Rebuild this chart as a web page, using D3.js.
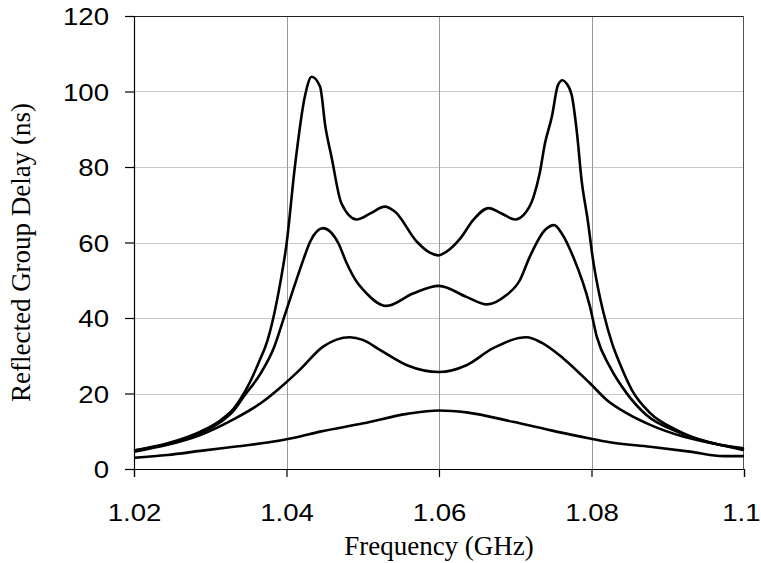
<!DOCTYPE html>
<html>
<head>
<meta charset="utf-8">
<script src="https://cdn.jsdelivr.net/npm/d3@7"></script>
<style>
  body { margin: 0; background: #fff; }
  svg { display: block; }
</style>
</head>
<body>
<div id="chart"></div>
<script>
// frequency (GHz), reflected group delay (ns)
const curveHigh = [
  [1.020, 4.9], [1.0244, 6.8], [1.0287, 9.9], [1.0314, 13], [1.0331, 16.1], [1.0349, 21.8],
  [1.0364, 28.4], [1.0375, 34], [1.0384, 41.2], [1.0392, 49.5], [1.0400, 59.5], [1.0411, 80.1],
  [1.0424, 98.6], [1.0433, 103.9], [1.0444, 101.3], [1.0451, 90.7], [1.0459, 82.7], [1.0472, 70.4],
  [1.0492, 66.1], [1.0510, 67.7], [1.0529, 69.5], [1.0542, 68.2], [1.0571, 60.2], [1.0588, 57.3],
  [1.0599, 56.6], [1.0610, 57.6], [1.0628, 61.1], [1.0645, 66], [1.0665, 69.1], [1.0682, 67.7],
  [1.0700, 66.1], [1.0711, 67.3], [1.0724, 72.1], [1.0732, 78.3], [1.0739, 86.3], [1.0748, 93.3],
  [1.0756, 101.7], [1.0762, 103], [1.0767, 102.2], [1.0774, 99.1], [1.0781, 88.9], [1.0787, 76.5],
  [1.0795, 66], [1.0802, 55.4], [1.0808, 48.5], [1.0816, 41.2], [1.0827, 33.3], [1.0837, 28],
  [1.0853, 20.9], [1.0877, 14.8], [1.0912, 10.3], [1.0951, 7.2], [1.100, 5.5]
];
const curveMid = [
  [1.020, 4.9], [1.0244, 6.6], [1.0287, 9.5], [1.0314, 12.5], [1.0331, 15.5], [1.0344, 19.2],
  [1.0366, 25.3], [1.0384, 32.4], [1.0397, 40.3], [1.0410, 48.3], [1.0422, 55.4], [1.0431, 60.2],
  [1.0448, 63.8], [1.0468, 59.8], [1.0479, 54.5], [1.0492, 49.6], [1.0501, 47.4], [1.0531, 43.2],
  [1.0566, 46.5], [1.0600, 48.5], [1.0636, 45.6], [1.0663, 43.6], [1.0688, 46], [1.0706, 50],
  [1.0719, 56.2], [1.0739, 63.3], [1.0751, 64.6], [1.0761, 62.4], [1.0776, 56.2], [1.0798, 43],
  [1.0807, 35], [1.0824, 27.1], [1.0846, 20.1], [1.0872, 14.3], [1.0912, 9.9], [1.0960, 6.8],
  [1.100, 5.0]
];
const curveLow = [
  [1.020, 4.6], [1.0244, 6.4], [1.0287, 9], [1.0331, 13.2], [1.0366, 17.4], [1.0392, 21.6],
  [1.0418, 26.4], [1.0448, 32.4], [1.0483, 34.9], [1.0500, 34.2], [1.0523, 31.5], [1.0558, 27.5],
  [1.0600, 25.7], [1.0636, 27.5], [1.0671, 32], [1.0715, 34.9], [1.0735, 33.4], [1.0763, 29.3],
  [1.0798, 22.7], [1.0820, 18.3], [1.0846, 14.8], [1.0877, 11.7], [1.0920, 8.6], [1.0964, 6.6],
  [1.100, 5.2]
];
const curveFlat = [
  [1.020, 3.0], [1.0244, 3.7], [1.0287, 4.8], [1.0331, 5.9], [1.0375, 7.0], [1.0410, 8.3],
  [1.0444, 9.9], [1.0501, 12.1], [1.0558, 14.6], [1.0600, 15.5], [1.0636, 15.0], [1.0697, 12.5],
  [1.0754, 9.9], [1.0798, 8.1], [1.0824, 7.1], [1.0877, 5.9], [1.0929, 4.6], [1.0973, 3.4],
  [1.100, 3.4]
];
const xTicks = [1.02, 1.04, 1.06, 1.08, 1.1];
const yTicks = [0, 20, 40, 60, 80, 100, 120];

const width = 761, height = 563;
const margin = { top: 16, right: 17, bottom: 94, left: 134 };
const innerW = width - margin.left - margin.right;
const innerH = height - margin.top - margin.bottom;

const svg = d3.select('#chart').append('svg')
  .attr('width', width)
  .attr('height', height);

const chart = svg.append('g')
  .attr('transform', `translate(${margin.left}, ${margin.top})`);

const xScale = d3.scaleLinear().domain([1.02, 1.1]).range([0, innerW]);
const yScale = d3.scaleLinear().domain([0, 120]).range([innerH, 0]);

// grid
chart.append('g').selectAll('line')
  .data(yTicks.slice(1, -1))
  .enter().append('line')
  .attr('x1', 0).attr('x2', innerW)
  .attr('y1', d => Math.round(yScale(d)) + 0.5).attr('y2', d => Math.round(yScale(d)) + 0.5)
  .attr('stroke', '#c8c8c8');
chart.append('g').selectAll('line')
  .data(xTicks.slice(1, -1))
  .enter().append('line')
  .attr('y1', 0).attr('y2', innerH)
  .attr('x1', d => Math.round(xScale(d)) + 0.5).attr('x2', d => Math.round(xScale(d)) + 0.5)
  .attr('stroke', '#999');

// frame top / right
chart.append('line')
  .attr('x1', 0).attr('x2', innerW).attr('y1', 0.5).attr('y2', 0.5)
  .attr('stroke', '#222');
chart.append('line')
  .attr('x1', innerW - 0.5).attr('x2', innerW - 0.5).attr('y1', 0).attr('y2', innerH)
  .attr('stroke', '#555');

const stretch = 1.15;

const xAxis = chart.append('g')
  .attr('transform', `translate(0, ${innerH})`)
  .call(d3.axisBottom(xScale).tickValues(xTicks).tickSize(8).tickPadding(0)
    .tickFormat(d => d3.format('')(+d.toFixed(2))));
const yAxis = chart.append('g')
  .call(d3.axisLeft(yScale).tickValues(yTicks).tickSize(9).tickPadding(0));

[xAxis, yAxis].forEach(ax => {
  ax.select('.domain').attr('stroke', '#000').attr('stroke-width', 1.2);
  ax.selectAll('.tick line').attr('stroke', '#000').attr('stroke-width', 1.2);
  ax.selectAll('text')
    .attr('fill', '#000')
    .style('font-family', '"Liberation Sans", Arial, sans-serif')
    .style('font-size', '24px');
});
xAxis.selectAll('text').attr('y', 35).attr('dy', '0.71em')
  .attr('transform', `scale(${stretch},1)`);
// last label sits on the page edge, keep it inside
xAxis.selectAll('.tick').filter(d => d === 1.1).select('text')
  .attr('text-anchor', 'end')
  .attr('x', 16 / stretch);
yAxis.selectAll('text').attr('x', -25 / stretch).attr('dy', '0.36em')
  .attr('transform', `scale(${stretch},1)`);

// curves
const line = d3.line()
  .x(d => xScale(d[0]))
  .y(d => yScale(d[1]))
  .curve(d3.curveMonotoneX);

chart.append('g').selectAll('path')
  .data([curveFlat, curveLow, curveMid, curveHigh])
  .enter().append('path')
  .attr('d', line)
  .attr('fill', 'none')
  .attr('stroke', '#000')
  .attr('stroke-width', 2.6)
  .attr('stroke-linejoin', 'round');

// axis titles
svg.append('text')
  .attr('x', margin.left + innerW / 2)
  .attr('y', 555)
  .attr('text-anchor', 'middle')
  .style('font-family', '"Liberation Serif", "Times New Roman", serif')
  .style('font-size', '27px')
  .text('Frequency (GHz)');

svg.append('text')
  .attr('transform', `translate(30, ${margin.top + innerH / 2 + 10}) rotate(-90)`)
  .attr('text-anchor', 'middle')
  .style('font-family', '"Liberation Serif", "Times New Roman", serif')
  .style('font-size', '27px')
  .text('Reflected Group Delay (ns)');
</script>
</body>
</html>
